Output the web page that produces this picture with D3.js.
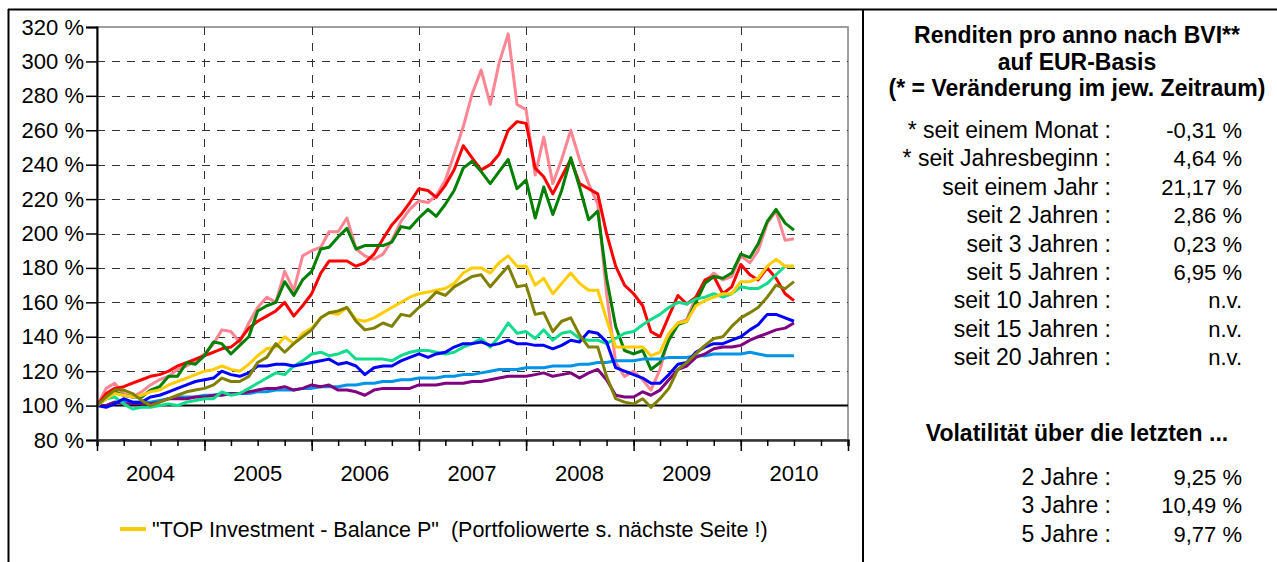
<!DOCTYPE html>
<html>
<head>
<meta charset="utf-8">
<script src="https://cdn.jsdelivr.net/npm/d3@7"></script>
<style>
  body { margin: 0; background: #fff; }
  svg { display: block; font-family: "Liberation Sans", Arial, sans-serif; }
</style>
</head>
<body>
<svg id="chart"></svg>
<script>
const width = 1277
const height = 562

// monthly index values, Jan 2004 .. Jul 2010 (100 % = start)
const pink = [100,110,113,107,105,108,112,115,117,121,123,126,130,136,144,143,137,148,157,163,160,178,167,187,190,192,201,201,209,191,187,185,188,196,207,214,219,218,222,231,246,262,281,295,275,299,316,275,272,234,256,229,243,260,243,229,217,165,125,117,120,115,109,121,140,148,150,163,172,177,173,175,187,183,190,206,213,196,197]
const red = [100,107,110,111,113,115,117,118,120,123,125,127,129,131,133,134,138,145,149,152,155,160,152,158,165,177,184,184,184,181,183,188,197,205,211,218,226,225,221,228,237,251,244,237,240,246,260,265,264,238,233,223,233,243,229,226,223,200,181,170,165,158,143,140,152,164,159,163,173,175,165,169,182,176,173,180,174,165,161]
const green = [100,104,108,106,105,105,109,111,117,117,125,124,129,137,136,130,135,140,155,158,160,172,164,173,178,191,192,198,203,191,193,193,193,195,204,203,209,214,210,217,225,238,242,236,229,236,243,226,231,209,227,211,225,244,227,208,213,174,146,132,130,132,121,125,138,147,149,160,171,175,174,177,188,186,194,207,214,206,202]
const yellow = [100,104,107,106,105,106,108,109,112,114,116,118,120,121,123,121,120,124,129,133,134,140,136,142,145,151,154,153,157,150,149,151,154,157,160,163,165,166,167,168,171,177,180,180,177,183,187,181,181,170,174,165,171,177,171,167,167,150,134,134,134,134,129,131,142,148,149,158,161,163,165,165,172,172,174,181,185,181,181]
const olive = [100,105,109,109,107,103,100,102,104,106,108,109,110,112,116,114,114,117,125,128,136,131,136,140,144,151,154,155,157,149,144,145,148,146,153,152,157,161,166,164,169,172,175,176,169,175,181,169,170,153,154,143,149,151,141,134,134,117,104,102,101,104,99,104,110,121,125,130,135,139,140,146,151,154,157,163,170,168,172]
const mint = [100,104,105,101,98,99,99,100,101,100,102,103,104,104,108,106,107,110,113,116,119,118,123,126,130,131,129,130,132,127,127,127,127,126,129,131,132,132,131,130,131,134,136,139,134,140,148,142,143,139,144,138,142,143,139,138,138,136,139,142,143,147,150,153,157,160,159,162,163,165,163,165,169,168,168,171,176,181,181]
const blue = [100,99,101,104,102,102,105,106,108,110,112,114,115,116,120,118,117,119,123,123,124,124,123,124,125,126,127,124,125,123,118,122,123,123,126,128,130,128,130,131,134,136,136,137,135,136,138,136,136,135,135,133,135,138,137,143,142,137,122,120,118,116,113,113,118,124,125,131,134,136,136,138,140,144,147,153,153,151,149]
const lightBlue = [100,100,102,103,102,102,102,103,104,105,105,105,106,106,107,107,107,107,108,108,109,109,109,110,110,111,111,111,112,112,113,113,114,114,115,115,116,116,116,117,117,118,118,119,120,121,121,121,122,122,122,123,123,123,124,124,125,125,126,126,126,127,127,127,128,128,128,129,129,130,130,130,130,131,130,129,129,129,129]
const purple = [100,100,102,101,101,101,101,102,104,104,104,105,105,106,106,107,107,108,109,110,110,111,109,110,112,111,112,109,109,108,106,109,110,110,110,110,112,112,112,113,113,113,114,114,115,116,117,117,117,118,119,117,118,119,116,119,121,115,106,105,105,108,106,109,115,121,123,128,130,133,134,134,135,138,140,142,144,145,148]

const seriesNames = ['pink', 'red', 'green', 'lightBlue', 'purple', 'mint', 'blue', 'yellow', 'olive']
const seriesValues = [pink, red, green, lightBlue, purple, mint, blue, yellow, olive]
const seriesColors = ['#ff8593', '#ff0000', '#008000', '#0093e6', '#800080', '#10dc8c', '#0000ff', '#ffcc00', '#808000']

const yTicks = [80, 100, 120, 140, 160, 180, 200, 220, 240, 260, 280, 300, 320]
const years = [2004, 2005, 2006, 2007, 2008, 2009, 2010]

const legendLabel = '"TOP Investment - Balance P"  (Portfoliowerte s. nächste Seite !)'

const returnLabels = ['* seit einem Monat :', '* seit Jahresbeginn :', 'seit einem Jahr :', 'seit 2 Jahren :',
  'seit 3 Jahren :', 'seit 5 Jahren :', 'seit 10 Jahren :', 'seit 15 Jahren :', 'seit 20 Jahren :']
const returnValues = ['-0,31 %', '4,64 %', '21,17 %', '2,86 %', '0,23 %', '6,95 %', 'n.v.', 'n.v.', 'n.v.']
const volLabels = ['2 Jahre :', '3 Jahre :', '5 Jahre :']
const volValues = ['9,25 %', '10,49 %', '9,77 %']

const svg = d3.select('#chart')
  .attr('width', width)
  .attr('height', height)

const plot = { left: 97, right: 848, top: 27, bottom: 440 }
const start = new Date(2004, 0, 1)

const x = d3.scaleTime()
  .domain([start, new Date(2011, 0, 1)])
  .range([plot.left, plot.right])

const y = d3.scaleLinear()
  .domain([80, 320])
  .range([plot.bottom, plot.top])

// outer frame
svg.append('line')
  .attr('x1', 8).attr('x2', width).attr('y1', 9.5).attr('y2', 9.5)
  .attr('stroke', '#000').attr('stroke-width', 2)
svg.append('line')
  .attr('x1', 8.5).attr('x2', 8.5).attr('y1', 9).attr('y2', height)
  .attr('stroke', '#000').attr('stroke-width', 2)
svg.append('line')
  .attr('x1', 863).attr('x2', 863).attr('y1', 9).attr('y2', height)
  .attr('stroke', '#000').attr('stroke-width', 2)

// plot frame
svg.append('rect')
  .attr('x', plot.left).attr('y', plot.top)
  .attr('width', plot.right - plot.left).attr('height', plot.bottom - plot.top)
  .attr('fill', 'none').attr('stroke', '#808080').attr('stroke-width', 1.5)

// grid
const grid = svg.append('g')
grid.selectAll('line.h')
  .data(yTicks.filter(d => d > 100 && d < 320))
  .join('line')
    .attr('x1', plot.left).attr('x2', plot.right)
    .attr('y1', d => Math.round(y(d)) + 0.5).attr('y2', d => Math.round(y(d)) + 0.5)
    .attr('stroke', '#333').attr('stroke-dasharray', '8,7')

grid.selectAll('line.v')
  .data(years.slice(1).map(yr => new Date(yr, 0, 1)))
  .join('line')
    .attr('x1', d => Math.round(x(d)) + 0.5).attr('x2', d => Math.round(x(d)) + 0.5)
    .attr('y1', plot.top).attr('y2', plot.bottom)
    .attr('stroke', '#333').attr('stroke-dasharray', '8,8')

svg.append('line')
  .attr('x1', plot.left).attr('x2', plot.right)
  .attr('y1', y(100)).attr('y2', y(100))
  .attr('stroke', '#000').attr('stroke-width', 2)

// lines
const line = d3.line()
  .x((d, i) => x(d3.timeMonth.offset(start, i)))
  .y(d => y(d))

svg.append('g')
  .attr('fill', 'none')
  .attr('stroke-width', 3)
  .attr('stroke-linejoin', 'round')
  .selectAll('path')
  .data(seriesValues)
  .join('path')
    .attr('class', (d, i) => seriesNames[i])
    .attr('stroke', (d, i) => seriesColors[i])
    .attr('d', line)

// y axis
const yAxis = svg.append('g')
  .attr('transform', `translate(${plot.left},0)`)
  .call(d3.axisLeft(y).tickValues(yTicks).tickSize(11).tickPadding(2).tickFormat(d => d + ' %'))
yAxis.select('.domain').attr('stroke', '#000').attr('stroke-width', 2)
yAxis.selectAll('.tick line').attr('stroke', '#000').attr('stroke-width', 1.5)
yAxis.selectAll('.tick text')
  .attr('font-family', '"Liberation Sans", Arial, sans-serif')
  .attr('font-size', 22).attr('fill', '#000')

// x axis
const xMinor = svg.append('g')
  .attr('transform', `translate(0,${plot.bottom})`)
  .call(d3.axisBottom(x).ticks(d3.timeMonth.every(3)).tickSize(6).tickFormat(''))
xMinor.select('.domain').attr('stroke', '#333').attr('stroke-width', 2.5)
xMinor.selectAll('.tick line').attr('stroke', '#000').attr('stroke-width', 1.5)

const xMajor = svg.append('g')
  .attr('transform', `translate(0,${plot.bottom})`)
  .call(d3.axisBottom(x).ticks(d3.timeYear.every(1)).tickSize(11).tickFormat(''))
xMajor.select('.domain').remove()
xMajor.selectAll('.tick line').attr('stroke', '#000').attr('stroke-width', 1.5)

svg.append('g')
  .selectAll('text')
  .data(years)
  .join('text')
    .attr('x', d => x(new Date(d, 6, 1)))
    .attr('y', 481)
    .attr('text-anchor', 'middle')
    .attr('font-size', 22)
    .text(d => d)

// legend
svg.append('line')
  .attr('x1', 120).attr('x2', 146).attr('y1', 529).attr('y2', 529)
  .attr('stroke', seriesColors[seriesNames.indexOf('yellow')]).attr('stroke-width', 4)
svg.append('text')
  .attr('x', 152).attr('y', 537)
  .attr('font-size', 21.5)
  .style('white-space', 'pre')
  .text(legendLabel)

// right panel
const panel = svg.append('g')
const titleLines = ['Renditen pro anno nach BVI**', 'auf EUR-Basis', '(* = Veränderung im jew. Zeitraum)']
panel.selectAll('text.title')
  .data(titleLines)
  .join('text')
    .attr('x', 1077)
    .attr('y', (d, i) => 43 + i * 26.7)
    .attr('text-anchor', 'middle')
    .attr('font-size', 23)
    .attr('font-weight', 'bold')
    .text(d => d)

const rowY = i => 138 + i * 28.4
panel.selectAll('text.rl')
  .data(returnLabels)
  .join('text')
    .attr('x', 1111).attr('y', (d, i) => rowY(i))
    .attr('text-anchor', 'end').attr('font-size', 23)
    .text(d => d)
panel.selectAll('text.rv')
  .data(returnValues)
  .join('text')
    .attr('x', 1242).attr('y', (d, i) => rowY(i))
    .attr('text-anchor', 'end').attr('font-size', 22)
    .text(d => d)

panel.append('text')
  .attr('x', 1077).attr('y', 441)
  .attr('text-anchor', 'middle')
  .attr('font-size', 23).attr('font-weight', 'bold')
  .text('Volatilität über die letzten ...')

const volY = i => 485 + i * 28.3
panel.selectAll('text.vl')
  .data(volLabels)
  .join('text')
    .attr('x', 1111).attr('y', (d, i) => volY(i))
    .attr('text-anchor', 'end').attr('font-size', 23)
    .text(d => d)
panel.selectAll('text.vv')
  .data(volValues)
  .join('text')
    .attr('x', 1242).attr('y', (d, i) => volY(i))
    .attr('text-anchor', 'end').attr('font-size', 22)
    .text(d => d)
</script>
</body>
</html>
